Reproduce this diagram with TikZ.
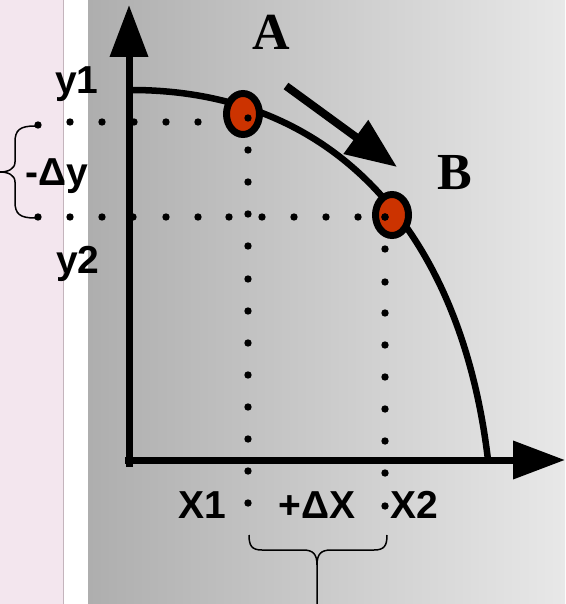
\documentclass[tikz,border=0pt]{standalone}
\usepackage{fontspec}
\setmainfont{Liberation Serif}
\newfontfamily\labfont{Liberation Sans}
\usetikzlibrary{arrows.meta,shapes.geometric}
\definecolor{pinkbg}{RGB}{243,230,238}
\definecolor{pinkedge}{RGB}{196,180,188}
\definecolor{grayL}{RGB}{174,174,174}
\definecolor{grayR}{RGB}{232,232,232}
\definecolor{ptred}{RGB}{204,51,0}
\begin{document}
\begin{tikzpicture}[x=1pt,y=-1pt,
  axis/.style={line width=7pt,-{Triangle[length=52pt,width=37pt]}},
  bigarrow/.style={line width=8pt,-{Triangle[length=51pt,width=40pt]}},
  curveline/.style={line width=6.5pt},
  pt/.style={ellipse,draw,line width=7pt,fill=ptred,minimum width=33pt,minimum height=41pt,inner sep=0pt},
  axlabel/.style={font=\labfont\bfseries\fontsize{39}{42}\selectfont,inner sep=0pt,anchor=base},
  ptlabel/.style={font=\bfseries\fontsize{52}{56}\selectfont,inner sep=0pt,anchor=base},
  brace/.style={line width=1.5pt}
]
\useasboundingbox (0,0) rectangle (565,604);
% backgrounds
\fill[pinkbg] (0,0) rectangle (64,604);
\draw[pinkedge,line width=1.5pt] (63.5,0) -- (63.5,604);
\fill[white] (64.5,0) rectangle (88,604);
\shade[left color=grayL,right color=grayR] (88,0) rectangle (565,604);

% curve (frontier)
\coordinate (ctop) at (131,90);
\coordinate (cend) at (488,460);
\draw[curveline] (ctop) .. controls (341,90) and (462,240) .. (cend);

% axes
\coordinate (origin) at (129,467);
\coordinate (ytip) at (129,5);
\coordinate (xstart) at (125,460);
\coordinate (xtip) at (565,460);
\draw[axis] (origin) -- (ytip);
\draw[axis] (xstart) -- (xtip);

% points
\node[pt] (ptA) at (243,114) {};
\node[pt] (ptB) at (392,215) {};

% dotted guides
\foreach \x/\y in {38/125,70/122,102/122,134/122,166/122,198/122}
  \fill (\x,\y) circle (3.7);
\foreach \x in {38,70,102,133,166,198,229,262,294,326,358,385}
  \fill (\x,217) circle (3.7);
\foreach \y in {118,150,182,214,246,279,311,343,375,407,439,471,503}
  \fill (248,\y) circle (3.7);
\foreach \y in {217,249,282,313,345,377,409,441,473,506}
  \fill (385,\y) circle (3.7);

% arrow A -> B
\coordinate (arrS) at (286,86);
\coordinate (arrE) at (397,167);
\draw[bigarrow] (arrS) -- (arrE);

% labels
\node[ptlabel] (labA) at (271,50) {A};
\node[ptlabel] (labB) at (455,189) {B};
\node[axlabel] (y1) at (77,94) {y1};
\node[axlabel] (dy) at (57,185) {-Δy};
\node[axlabel] (y2) at (78,273) {y2};
\node[axlabel] (x1) at (202,518) {X1};
\node[axlabel] (dx) at (317,518) {+ΔX};
\node[axlabel] (x2) at (414,518) {X2};

% braces
\draw[brace] (35,126) .. controls (20,126) and (15,130) .. (15,142) -- (15,162)
  .. controls (15,169) and (8,172) .. (0,172)
  .. controls (8,172) and (15,175) .. (15,182) -- (15,202)
  .. controls (15,214) and (20,218) .. (35,218);
\draw[brace] (249,535) .. controls (249,546) and (252,550) .. (262,550) -- (303,550)
  .. controls (313,550) and (317,554) .. (317,565) -- (317,604);
\draw[brace] (387,535) .. controls (387,546) and (384,550) .. (374,550) -- (331,550)
  .. controls (321,550) and (317,554) .. (317,565);
\end{tikzpicture}
\end{document}
